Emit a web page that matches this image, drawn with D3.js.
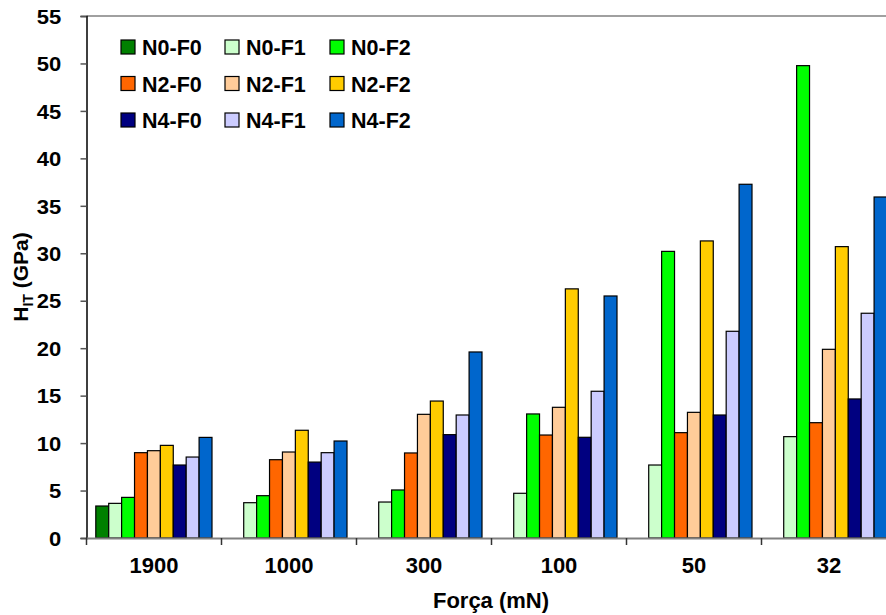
<!DOCTYPE html>
<html><head><meta charset="utf-8">
<script src="https://cdn.jsdelivr.net/npm/d3@7"></script>
<style>body{margin:0;background:#fff}svg{display:block}text{font-family:"Liberation Sans",Arial,sans-serif;font-weight:bold;fill:#000}</style>
</head><body><svg id="c" width="886" height="615"></svg>
<script>
const categories = ["1900","1000","300","100","50","32"];
const seriesNames = ["N0-F0","N0-F1","N0-F2","N2-F0","N2-F1","N2-F2","N4-F0","N4-F1","N4-F2"];
const colors = ["#008000","#CCFFCC","#00FF00","#FF6600","#FFCC99","#FFCC00","#000080","#CCCCFF","#0066CC"];
const N0F0 = [3.37, null, null, null, null, null];
const N0F1 = [3.65, 3.72, 3.79, 4.71, 7.69, 10.68];
const N0F2 = [4.28, 4.46, 5.06, 13.07, 30.2, 49.77];
const N2F0 = [8.99, 8.25, 8.96, 10.85, 11.1, 12.15];
const N2F1 = [9.2, 9.06, 13.03, 13.77, 13.24, 19.88];
const N2F2 = [9.76, 11.35, 14.43, 26.25, 31.3, 30.7];
const N4F0 = [7.69, 8.0, 10.89, 10.61, 12.96, 14.65];
const N4F1 = [8.53, 8.99, 12.96, 15.46, 21.78, 23.68];
const N4F2 = [10.6, 10.22, 19.6, 25.5, 37.27, 35.93];
const yTicks = [0,5,10,15,20,25,30,35,40,45,50,55];
const values = [N0F0,N0F1,N0F2,N2F0,N2F1,N2F2,N4F0,N4F1,N4F2];

const svg = d3.select("#c");
const L = 86.5, T = 16, B = 538, bandW = 135;
const x0 = d3.scaleBand().domain(categories).range([L, L + bandW*categories.length]).padding(0);
const x1 = d3.scaleBand().domain(seriesNames).range([9.3, 125.5]).padding(0);
const y = d3.scaleLinear().domain([0,55]).range([B, T]);

// top border
svg.append("line").attr("x1",L).attr("x2",886).attr("y1",T).attr("y2",T).attr("stroke","#a0a0a0").attr("stroke-width",2);

// bars
const g = svg.append("g");
categories.forEach((c, ci) => {
  seriesNames.forEach((s, si) => {
    const v = values[si][ci];
    if (v == null) return;
    g.append("rect")
      .attr("x", x0(c) + x1(s))
      .attr("y", y(v))
      .attr("width", x1.bandwidth())
      .attr("height", y(0) - y(v))
      .attr("fill", colors[si])
      .attr("stroke", "#000").attr("stroke-width", 1.2);
  });
});

// y axis
const ya = svg.append("g").attr("transform",`translate(${L},0)`)
  .call(d3.axisLeft(y).tickValues(yTicks).tickSize(6).tickPadding(5));
ya.select(".domain").attr("stroke","#000").attr("stroke-width",1.5);
ya.selectAll(".tick line").attr("stroke","#555").attr("stroke-width",1.5);
ya.selectAll("text").style("font-size","20px").attr("transform","scale(1.1,1)").attr("dx","-12").attr("dy","0.36em");

// x axis
const xa = svg.append("g").attr("transform",`translate(0,${B})`)
  .call(d3.axisBottom(x0).tickSize(0).tickPadding(24));
xa.select(".domain").attr("stroke","#808080").attr("stroke-width",2);
xa.selectAll("text").style("font-size","22px").attr("dy","0.48em");
// category boundary ticks
const bounds = categories.map(c => x0(c));
svg.append("g").selectAll("line").data(bounds).join("line")
  .attr("x1",d=>d).attr("x2",d=>d).attr("y1",B).attr("y2",B+7)
  .attr("stroke","#333").attr("stroke-width",1.5);

// axis titles
svg.append("text").attr("x", 491).attr("y", 608).attr("text-anchor","middle")
  .style("font-size","22px").text("Força (mN)");
const yt = svg.append("text").attr("transform","translate(28,277) rotate(-90)").attr("text-anchor","middle")
  .style("font-size","21px");
yt.append("tspan").text("H");
yt.append("tspan").attr("dy","5").style("font-size","14px").text("IT");
yt.append("tspan").attr("dy","-5").text(" (GPa)");

// legend
const legX = [121, 225, 330], legY = [40, 76.5, 113];
seriesNames.forEach((s, i) => {
  const col = i % 3, row = Math.floor(i / 3);
  svg.append("rect").attr("x", legX[col]).attr("y", legY[row]).attr("width",14).attr("height",14)
    .attr("fill", colors[i]).attr("stroke","#000").attr("stroke-width",1.2);
  svg.append("text").attr("x", legX[col] + 21).attr("y", legY[row] + 15)
    .style("font-size","21.5px").text(s);
});
</script></body></html>
